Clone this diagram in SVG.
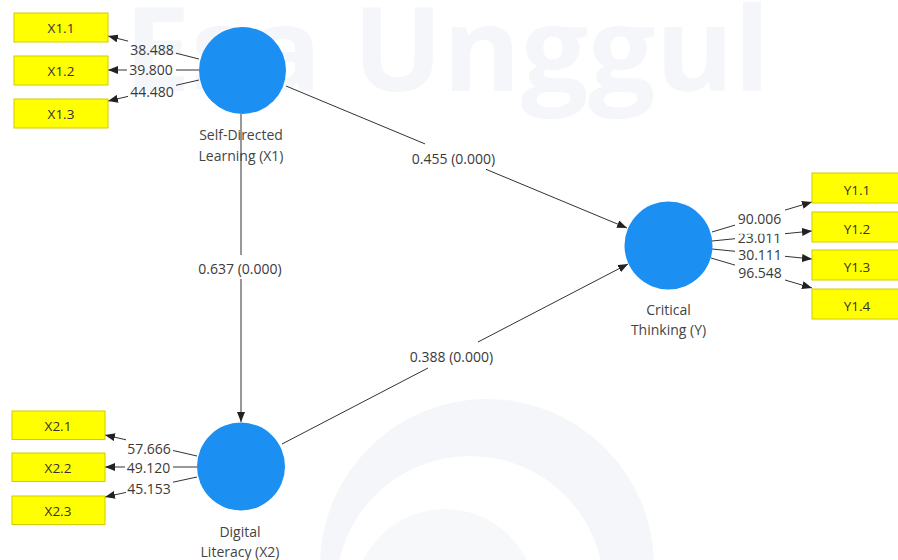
<svg xmlns="http://www.w3.org/2000/svg" width="898" height="560" viewBox="0 0 898 560">
<style>
  .wm { fill: #f4f6f9; }
  .lv { fill: #1b8ff2; }
  .ind rect { fill: #ffff00; stroke: #d2cc00; stroke-width: 1; }
  .ind text { font-family: "Open Sans", "Noto Sans", sans-serif; font-size: 13.5px; fill: #333; text-anchor: middle; }
  .nl { font-family: "Open Sans", "Noto Sans", sans-serif; font-size: 14px; fill: #444; text-anchor: middle; }
  .el { font-family: "Open Sans", "Noto Sans", sans-serif; font-size: 14px; fill: #3a3a3a; text-anchor: middle; }
  .cn line { stroke: #333; stroke-width: 1; fill: none; }
  .cn line.a { marker-end: url(#arr); }
</style>
<defs>
  <marker id="arr" markerWidth="10" markerHeight="8" refX="10" refY="4" orient="auto" markerUnits="userSpaceOnUse">
    <path d="M0,0 L10,4 L0,8 z" fill="#222"/>
  </marker>
</defs>
<rect x="0" y="0" width="898" height="560" fill="#ffffff"/>
<g id="watermark">
  <text class="wm" x="124" y="91" font-family="'Open Sans', 'Noto Sans', sans-serif" font-weight="bold" font-size="116" textLength="646" lengthAdjust="spacingAndGlyphs">Esa Unggul</text>
  <path class="wm" fill-rule="evenodd" d="M320,566 A167,167 0 1 1 654,566 A167,167 0 1 1 320,566 Z M336,590 A134,134 0 1 0 604,590 A134,134 0 1 0 336,590 Z"/>
  <circle cx="445" cy="600" r="91" fill="#f7f8fa"/>
</g>
<g id="connectors" class="cn">
  <line x1="199" y1="59" x2="176" y2="53.2"/>
  <line class="a" x1="128" y1="41.1" x2="108" y2="36"/>
  <line x1="199" y1="70" x2="176" y2="70"/>
  <line class="a" x1="127" y1="70" x2="108" y2="70"/>
  <line x1="199" y1="80" x2="176" y2="85.3"/>
  <line class="a" x1="128" y1="96.4" x2="108" y2="101"/>
  <line x1="197" y1="456" x2="173" y2="450.5"/>
  <line class="a" x1="126" y1="439.8" x2="105" y2="435"/>
  <line x1="197" y1="467" x2="173" y2="467"/>
  <line class="a" x1="125" y1="467" x2="105" y2="467"/>
  <line x1="197" y1="477" x2="173" y2="482.2"/>
  <line class="a" x1="126" y1="492.4" x2="105" y2="497"/>
  <line x1="712" y1="232" x2="735" y2="225.1"/>
  <line class="a" x1="785" y1="210.1" x2="812" y2="202"/>
  <line x1="712" y1="241" x2="735" y2="238.7"/>
  <line class="a" x1="785" y1="233.7" x2="812" y2="231"/>
  <line x1="712" y1="249" x2="735" y2="251.3"/>
  <line class="a" x1="785" y1="256.3" x2="812" y2="259"/>
  <line x1="711" y1="258" x2="735" y2="265.1"/>
  <line class="a" x1="785" y1="280" x2="812" y2="288"/>
  <line x1="286" y1="86" x2="425" y2="143.9"/>
  <line class="a" x1="486" y1="169.3" x2="627" y2="228"/>
  <line x1="241" y1="114" x2="241" y2="255"/>
  <line class="a" x1="241" y1="279" x2="241" y2="422"/>
  <line x1="282" y1="444" x2="428" y2="368"/>
  <line class="a" x1="478" y1="342" x2="628" y2="264"/>
  <text class="el" x="152" y="54.5">38.488</text>
  <text class="el" x="151" y="75">39.800</text>
  <text class="el" x="152" y="96.5">44.480</text>
  <text class="el" x="149" y="453.5">57.666</text>
  <text class="el" x="148.5" y="472.5">49.120</text>
  <text class="el" x="149" y="493.5">45.153</text>
  <text class="el" x="760" y="278">96.548</text>
  <text class="el" x="760" y="260">30.111</text>
  <text class="el" x="759.5" y="242.7">23.011</text>
  <rect x="736" y="211" width="48" height="22.8" fill="#ffffff"/>
  <text class="el" x="759.5" y="224">90.006</text>
  <text class="el" x="453.5" y="164.3">0.455 (0.000)</text>
  <text class="el" x="240" y="273.5">0.637 (0.000)</text>
  <text class="el" x="451.5" y="361.7">0.388 (0.000)</text>
</g>
<g id="X1">
  <circle class="lv" cx="242.5" cy="70.5" r="43.5"/>
  <text class="nl" x="241" y="140">Self-Directed</text>
  <text class="nl" x="241" y="160.7">Learning (X1)</text>
</g>
<g id="X2">
  <circle class="lv" cx="241" cy="466.5" r="44"/>
  <text class="nl" x="240" y="537">Digital</text>
  <text class="nl" x="240" y="557">Literacy (X2)</text>
</g>
<g id="Y">
  <circle class="lv" cx="668.5" cy="245.5" r="44"/>
  <text class="nl" x="668.5" y="314.5">Critical</text>
  <text class="nl" x="668.5" y="335">Thinking (Y)</text>
</g>
<g id="X1.1" class="ind"><rect x="14" y="13" width="94" height="29"/><text x="61" y="33.3">X1.1</text></g>
<g id="X1.2" class="ind"><rect x="14" y="56" width="94" height="29"/><text x="61" y="76.3">X1.2</text></g>
<g id="X1.3" class="ind"><rect x="14" y="99" width="94" height="29"/><text x="61" y="119.3">X1.3</text></g>
<g id="X2.1" class="ind"><rect x="12" y="411" width="93" height="28.5"/><text x="58" y="430.5">X2.1</text></g>
<g id="X2.2" class="ind"><rect x="12" y="453" width="93" height="28.5"/><text x="58" y="472.5">X2.2</text></g>
<g id="X2.3" class="ind"><rect x="12" y="496" width="93" height="28.5"/><text x="58" y="515.5">X2.3</text></g>
<g id="Y1.1" class="ind"><rect x="812" y="173" width="94" height="30"/><text x="857" y="194.5">Y1.1</text></g>
<g id="Y1.2" class="ind"><rect x="812" y="212" width="94" height="30"/><text x="857" y="233.5">Y1.2</text></g>
<g id="Y1.3" class="ind"><rect x="812" y="250" width="94" height="30"/><text x="857" y="271.5">Y1.3</text></g>
<g id="Y1.4" class="ind"><rect x="812" y="289" width="94" height="30"/><text x="857" y="310.5">Y1.4</text></g>
</svg>
